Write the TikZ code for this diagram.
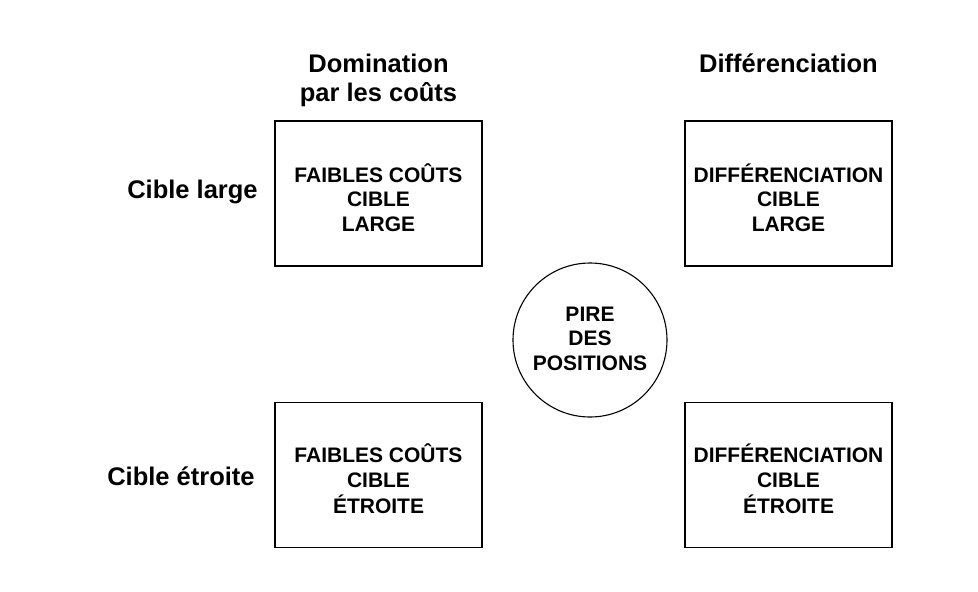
\documentclass[tikz,border=0pt]{standalone}
\usepackage{fontspec}
\setmainfont{Liberation Sans}
\begin{document}
\begin{tikzpicture}[x=1pt,y=-1pt,
  boxstyle/.style={draw=black,line width=1.1pt,rectangle,minimum width=207pt,minimum height=145pt,inner sep=0pt},
  circstyle/.style={draw=black,line width=1.1pt,circle,minimum size=154pt,inner sep=0pt},
  boxtext/.style={anchor=base,inner sep=0pt,font=\fontsize{21}{24.5}\selectfont\bfseries},
  headtext/.style={anchor=base,inner sep=0pt,font=\fontsize{25.5}{29}\selectfont\bfseries}]
\useasboundingbox (0,0) rectangle (978,592);
% boxes
\node[boxstyle] (b1) at (378.5,193.5) {};
\node[boxstyle] (b2) at (788.5,193.5) {};
\node[boxstyle] (b3) at (378.5,475) {};
\node[boxstyle] (b4) at (788.5,475) {};
\node[circstyle] (c) at (590,340) {};
% box texts
\node[boxtext] (t1) at (378.5,231) {\begin{tabular}[b]{@{}c@{}}FAIBLES COÛTS\\CIBLE\\LARGE\end{tabular}};
\node[boxtext] (t2) at (788.5,231) {\begin{tabular}[b]{@{}c@{}}DIFFÉRENCIATION\\CIBLE\\LARGE\end{tabular}};
\node[boxtext] (t3) at (378.5,513) {\begin{tabular}[b]{@{}c@{}}FAIBLES COÛTS\\CIBLE\\ÉTROITE\end{tabular}};
\node[boxtext] (t4) at (788.5,513) {\begin{tabular}[b]{@{}c@{}}DIFFÉRENCIATION\\CIBLE\\ÉTROITE\end{tabular}};
\node[boxtext] (tc) at (590,370) {\begin{tabular}[b]{@{}c@{}}PIRE\\DES\\POSITIONS\end{tabular}};
% headings
\node[headtext] (h1) at (378.5,72) {\begin{tabular}[t]{@{}c@{}}Domination\\par les coûts\end{tabular}};
\node[headtext] (h2) at (788.5,72) {Différenciation};
\node[headtext] (r1) at (192.5,198) {Cible large};
\node[headtext] (r2) at (181,485) {Cible étroite};
\end{tikzpicture}
\end{document}
